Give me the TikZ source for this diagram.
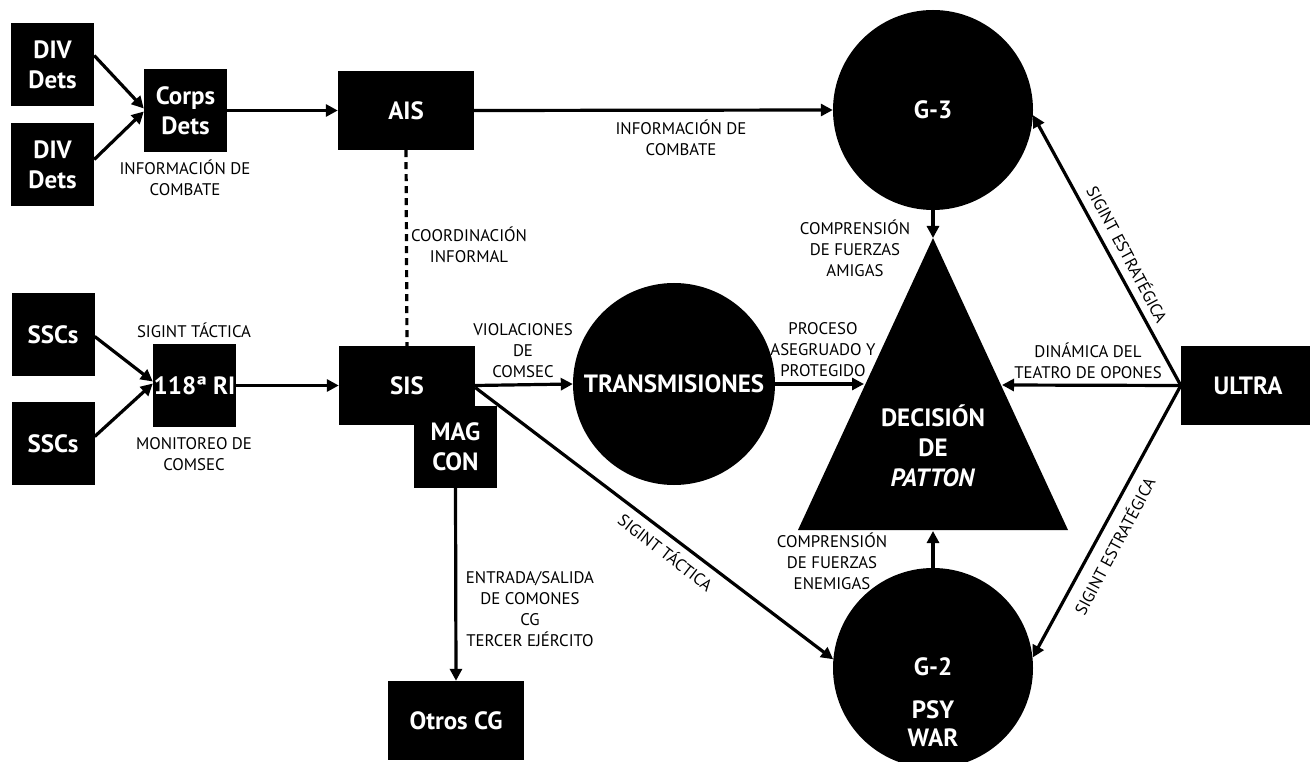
\documentclass[tikz,border=0pt]{standalone}
\usepackage{fontspec}
\setmainfont{PT Sans}
\usetikzlibrary{arrows.meta,calc}
\begin{document}
\begin{tikzpicture}[x=1pt,y=-1pt,
  blk/.style={fill=black, text=white, font=\bfseries\fontsize{25}{30}\selectfont, align=center, inner sep=0pt},
  box/.style={blk, rectangle},
  circ/.style={blk, circle, minimum size=200pt},
  lbl/.style={font=\fontsize{16.8}{21}\selectfont, align=center, inner sep=0pt},
  conn/.style={line width=3.2pt, -{Triangle[length=12pt,width=12pt]}},
  dashconn/.style={line width=3.2pt, dash pattern=on 7pt off 5pt}]
\useasboundingbox (0,0) rectangle (1310,762);
% boxes
\node[box, minimum width=83pt, minimum height=83pt] (div1) at (52.5,64.5) {DIV\\Dets};
\node[box, minimum width=83pt, minimum height=83pt] (div2) at (52.5,164.5) {DIV\\Dets};
\node[box, minimum width=83pt, minimum height=83pt] (corps) at (185.5,110.5) {Corps\\Dets};
\node[box, minimum width=136pt, minimum height=79pt] (ais) at (406,110.5) {AIS};
\node[box, minimum width=83pt, minimum height=83pt] (ssc1) at (53,334.5) {SSCs};
\node[box, minimum width=83pt, minimum height=83pt] (ssc2) at (53,443.5) {SSCs};
\node[box, minimum width=83pt, minimum height=83pt] (ri) at (194.5,385.5) {118ª RI};
\node[box, minimum width=136pt, minimum height=79pt] (sis) at (407,385.5) {SIS};
\node[box, minimum width=83pt, minimum height=82pt] (magcon) at (455.5,447) {MAG\\CON};
\node[box, minimum width=136pt, minimum height=79pt] (otros) at (456,720.5) {Otros CG};
\node[box, minimum width=134pt, minimum height=79pt] (ultra) at (1248,385.5) {ULTRA};
% circles
\node[circ] (g3) at (933,110) {G-3};
\node[circ, minimum size=202pt] (trans) at (674,384) {TRANSMISIONES};
\node[circ] (g2) at (933,668) {};
\node[blk, fill=none] (g2t) at (933,667) {G-2};
\node[blk, fill=none, font=\bfseries\fontsize{25}{28}\selectfont] (psy) at (933,724) {PSY\\WAR};
% triangle
\fill (933,238) -- (1068,530) -- (798,530) -- cycle;
\coordinate (apex) at (933,238);
\coordinate (tl) at (864,384);
\coordinate (tr) at (1002,385);
\coordinate (bc) at (933,531);
\node[blk, fill=none] (dec) at (933,446) {DECISIÓN\\DE\\\textit{PATTON}};
% connectors
\draw[conn] ([yshift=9pt]div1.east) -- ([yshift=2pt]corps.west);
\draw[conn] ([yshift=5pt]div2.east) -- ([yshift=-1pt]corps.west);
\draw[conn] (corps.east) -- (ais.west);
\draw[conn] (ais.east) -- (g3.west);
\draw[dashconn] (ais.south) -- (sis.north);
\draw[conn] ([yshift=-2pt]ssc1.east) -- ([yshift=4pt]ri.west);
\draw[conn] ([yshift=7pt]ssc2.east) -- ([yshift=2pt]ri.west);
\draw[conn] (ri.east) -- (sis.west);
\draw[conn] (sis.east) -- (trans.west);
\draw[conn] ([yshift=-2pt]sis.east) -- (g2.175);
\draw[conn] (magcon.south) -- (otros.north);
\draw[conn] (g3.south) -- (apex);
\draw[conn] (trans.east) -- (tl);
\draw[conn] (ultra.west) -- (tr);
\draw[conn] (g2.north) -- (bc);
\draw[conn] (ultra.west) -- (g3.357);
\draw[conn] (ultra.west) -- (g2.6);
% labels
\node[lbl] (l1) at (185,177.5) {INFORMACIÓN DE\\COMBATE};
\node[lbl] (l2) at (681,137.5) {INFORMACIÓN DE\\COMBATE};
\node[lbl] (l3) at (469,244.5) {COORDINACIÓN\\INFORMAL};
\node[lbl] (l4) at (194,330) {SIGINT TÁCTICA};
\node[lbl] (l5) at (194,454) {MONITOREO DE\\COMSEC};
\node[lbl] (l6) at (523,351) {VIOLACIONES\\DE\\COMSEC};
\node[lbl] (l7) at (855,248) {COMPRENSIÓN\\DE FUERZAS\\AMIGAS};
\node[lbl] (l8) at (823,350) {PROCESO\\ASEGRUADO Y\\PROTEGIDO};
\node[lbl] (l9) at (1088,360.5) {DINÁMICA DEL\\TEATRO DE OPONES};
\node[lbl] (l10) at (832,561.5) {COMPRENSIÓN\\DE FUERZAS\\ENEMIGAS};
\node[lbl] (l11) at (530,609) {ENTRADA/SALIDA\\DE COMONES\\CG\\TERCER EJÉRCITO};
\node[lbl, rotate=-37.7] (l12) at (666,552) {SIGINT TÁCTICA};
\node[lbl, rotate=-62] (l13) at (1128,254) {SIGINT ESTRATÉGICA};
\node[lbl, rotate=62] (l14) at (1114,546) {SIGINT ESTRATÉGICA};
\end{tikzpicture}
\end{document}
